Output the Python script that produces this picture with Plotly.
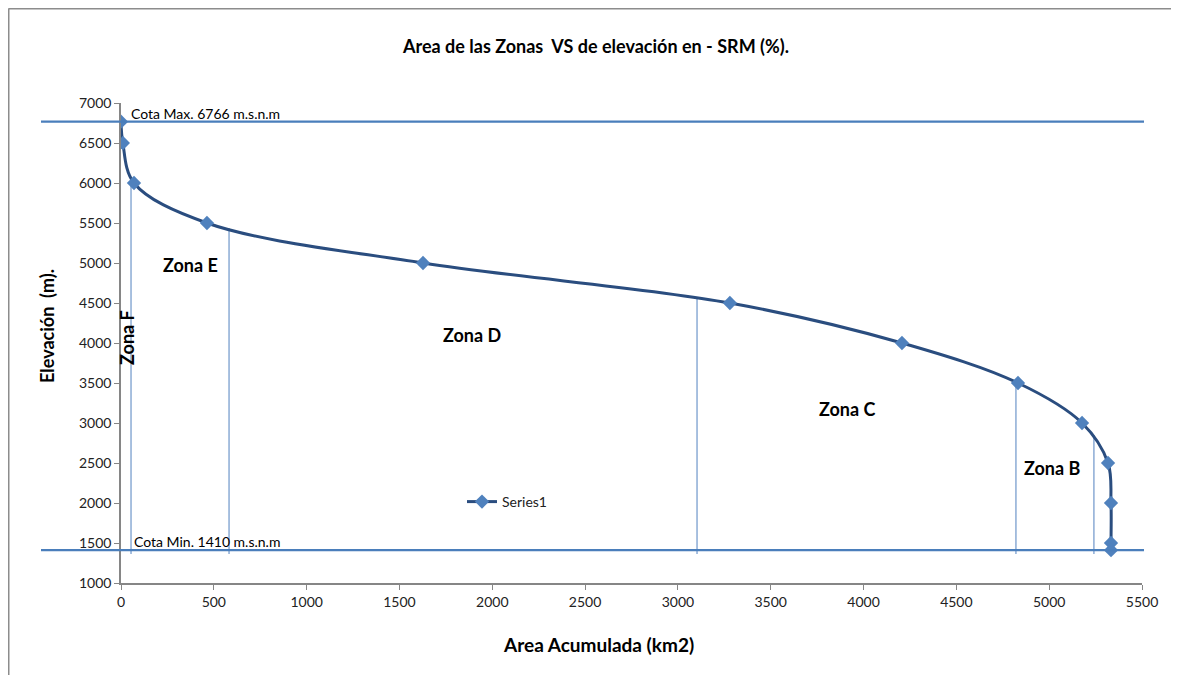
import plotly.graph_objects as go

# Data
area_km2 = [0, 10, 70, 463, 1627, 3280, 4207, 4832, 5177, 5317, 5333, 5333, 5333]
elevation_m = [6766, 6500, 6000, 5500, 5000, 4500, 4000, 3500, 3000, 2500, 2000, 1500, 1410]
cota_max = 6766
cota_min = 1410
zone_bounds_x = [54, 582, 3103, 4821, 5241]
zone_bounds_top = [6000, 5437, 4575, 3537, 2850]
zone_bottom = 1362
zone_names = ["Zona E", "Zona D", "Zona C", "Zona B"]
zone_label_x = [372, 1891, 3911, 5020]
zone_label_y = [4975, 4100, 3175, 2438]

FONT = "Lato, 'Open Sans', sans-serif"
OFF = 8  # page body margin
W, H = 1179 - OFF, 675 - OFF
L = 121 - OFF
T = 103 - OFF
R = W - (1142 - OFF)
B = H - (583 - OFF)
pw = W - L - R
ph = H - T - B

def px(xp):
    return (xp - OFF - L) / pw

def py(yp):
    return (H - B - (yp - OFF)) / ph

fig = go.Figure()
fig.add_trace(go.Scatter(
    x=area_km2, y=elevation_m, mode="lines+markers", name="Series1",
    line=dict(color="#2A4D7F", width=3, shape="spline", smoothing=1.0),
    marker=dict(symbol="diamond", size=11, color="#4F81BD",
                line=dict(color="#4F81BD", width=0)),
))

shapes = []
for yv in [cota_max, cota_min]:
    shapes.append(dict(type="line", xref="paper", yref="y",
                       x0=px(41), x1=px(1144), y0=yv, y1=yv,
                       line=dict(color="#4A7EBB", width=2.2)))
for xv, yt in zip(zone_bounds_x, zone_bounds_top):
    shapes.append(dict(type="line", xref="x", yref="y", x0=xv, x1=xv,
                       y0=zone_bottom, y1=yt,
                       line=dict(color="#6E96CA", width=1.2), layer="below"))
# outer chart border (top and left)
bx = (0.5 - L) / pw
by = (H - B - 0.5) / ph
shapes.append(dict(type="line", xref="paper", yref="paper", x0=bx, x1=(W + 5 - L) / pw,
                   y0=by, y1=by, line=dict(color="#8C8C8C", width=2)))
shapes.append(dict(type="line", xref="paper", yref="paper", x0=bx, x1=bx,
                   y0=by, y1=-(B + 5) / ph, line=dict(color="#8C8C8C", width=2)))

annotations = []
for name, xv, yv in zip(zone_names, zone_label_x, zone_label_y):
    annotations.append(dict(x=xv, y=yv, xref="x", yref="y", text="<b>" + name + "</b>",
                            showarrow=False, font=dict(family=FONT, size=18, color="#000")))
annotations.append(dict(x=32, y=4075, xref="x", yref="y", text="<b>Zona F</b>",
                        textangle=-90, showarrow=False,
                        font=dict(family=FONT, size=18, color="#000")))
annotations.append(dict(x=px(129), y=cota_max, xref="paper", yref="y",
                        text="Cota Max. 6766 m.s.n.m", showarrow=False,
                        xanchor="left", yanchor="bottom", yshift=-2,
                        font=dict(family=FONT, size=14, color="#000")))
annotations.append(dict(x=px(132), y=cota_min, xref="paper", yref="y",
                        text="Cota Min. 1410 m.s.n.m", showarrow=False,
                        xanchor="left", yanchor="bottom", yshift=-2,
                        font=dict(family=FONT, size=14, color="#000")))
# axis titles
annotations.append(dict(x=px(598), y=py(644), xref="paper", yref="paper",
                        text="<b>Area Acumulada (km2)</b>", showarrow=False,
                        xanchor="center", yanchor="middle",
                        font=dict(family=FONT, size=19, color="#000")))
annotations.append(dict(x=px(47), y=py(326), xref="paper", yref="paper",
                        text="<b>Elevación  (m).</b>", showarrow=False, textangle=-90,
                        xanchor="center", yanchor="middle",
                        font=dict(family=FONT, size=18, color="#000")))

fig.update_layout(
    width=W, height=H,
    margin=dict(l=L, r=R, t=T, b=B),
    paper_bgcolor="white", plot_bgcolor="white",
    font=dict(family=FONT, size=13, color="#222"),
    title=dict(text="<b>Area de las Zonas  VS de elevación en - SRM (%).</b>",
               x=(596 - OFF) / W, xanchor="center", y=1 - (47 - OFF) / H, yanchor="middle",
               font=dict(family=FONT, size=18, color="#000")),
    showlegend=True,
    legend=dict(x=px(462), y=py(502), xanchor="left", yanchor="middle",
                bgcolor="rgba(0,0,0,0)", font=dict(family=FONT, size=14, color="#222"),
                itemwidth=30),
    xaxis=dict(range=[0, 5500], tick0=0, dtick=500, showgrid=False, zeroline=False,
               showline=True, linecolor="#868686", linewidth=1.5,
               ticks="outside", ticklen=5, tickcolor="#868686",
               tickfont=dict(family=FONT, size=14, color="#222")),
    yaxis=dict(range=[1000, 7000], tick0=1000, dtick=500, showgrid=False, zeroline=False,
               showline=True, linecolor="#868686", linewidth=1.5,
               ticks="outside", ticklen=5, tickcolor="#868686",
               tickfont=dict(family=FONT, size=14, color="#222")),
    shapes=shapes,
    annotations=annotations,
)

fig.write_html("out.html")
